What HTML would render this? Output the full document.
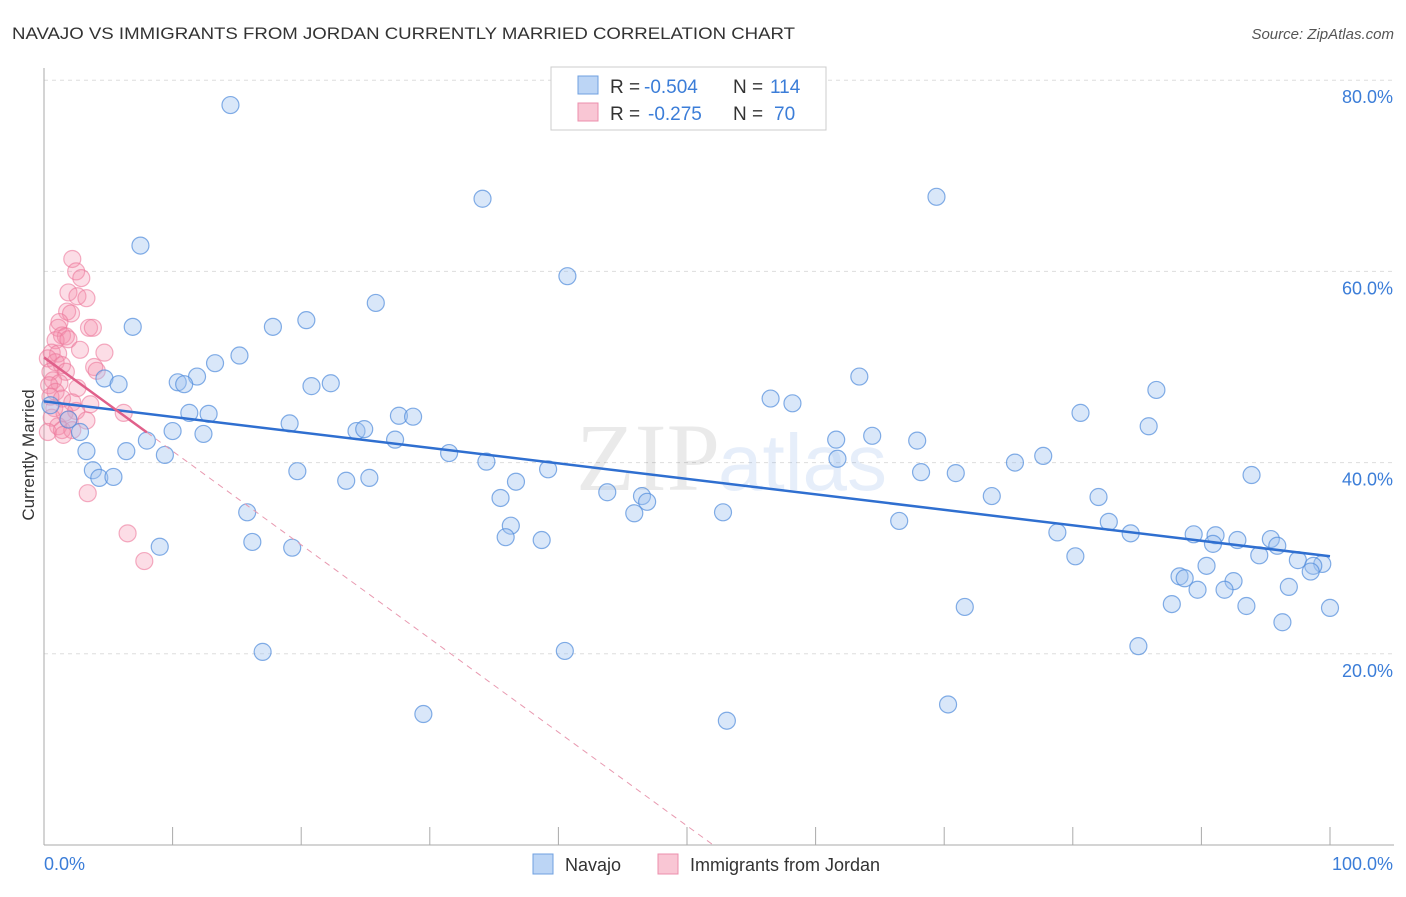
<!DOCTYPE html>
<html><head><meta charset="utf-8"><style>
body{margin:0;background:#fff;font-family:"Liberation Sans",sans-serif}
</style></head><body>
<svg width="1406" height="892" xmlns="http://www.w3.org/2000/svg">
<text x="12" y="39" font-size="17" fill="#333" textLength="783" lengthAdjust="spacingAndGlyphs">NAVAJO VS IMMIGRANTS FROM JORDAN CURRENTLY MARRIED CORRELATION CHART</text>
<text x="1394" y="39" font-size="15" fill="#555" font-style="italic" text-anchor="end">Source: ZipAtlas.com</text>
<g id="grid"></g>
<g id="axes"></g>
<text x="720" y="490" font-size="96" fill="#000" opacity="0.08" text-anchor="end" font-family="Liberation Serif">ZIP</text>
<text x="718" y="490" font-size="80" fill="#3b7dd8" opacity="0.12">atlas</text>
<g id="pts"></g>
<g id="lines"></g>
<text transform="translate(34,455) rotate(-90)" font-size="17" fill="#333" text-anchor="middle">Currently Married</text>
<g>
<rect x="551" y="67" width="275" height="63" fill="#fff" stroke="#ccc"/>
<rect x="578" y="76" width="20" height="18" fill="#bcd5f5" stroke="#6fa0e0"/>
<rect x="578" y="103" width="20" height="18" fill="#f9c6d4" stroke="#ec8fac"/>
<text y="93" font-size="19" fill="#333"><tspan x="610">R =</tspan><tspan x="644" fill="#3b7dd8">-0.504</tspan><tspan x="733">N =</tspan><tspan x="770" fill="#3b7dd8">114</tspan></text>
<text y="120" font-size="19" fill="#333"><tspan x="610">R =</tspan><tspan x="648" fill="#3b7dd8">-0.275</tspan><tspan x="733">N =</tspan><tspan x="774" fill="#3b7dd8">70</tspan></text>
</g>
<g>
<rect x="533" y="854" width="20" height="20" fill="#bcd5f5" stroke="#6fa0e0"/>
<text x="565" y="871" font-size="18" fill="#333">Navajo</text>
<rect x="658" y="854" width="20" height="20" fill="#f9c6d4" stroke="#ec8fac"/>
<text x="690" y="871" font-size="18" fill="#333">Immigrants from Jordan</text>
</g>
</svg>
<script>
const blueX=[14.5,7.5,34.1,69.4,40.7,25.8,20.4,17.8,6.9,15.2,13.3,11.9,10.4,10.9,4.7,5.8,20.8,22.3,63.4,86.5,56.5,58.2,11.3,12.8,27.6,28.7,80.6,19.1,85.9,10.0,12.4,24.3,24.9,27.3,8.0,61.6,64.4,67.9,2.8,1.9,3.3,6.4,9.4,31.5,34.4,61.7,75.5,77.7,3.8,4.3,5.4,19.7,39.2,68.2,70.9,93.9,23.5,25.3,36.7,35.5,43.8,46.5,46.9,73.7,82.0,15.8,45.9,52.8,66.5,82.8,36.3,35.9,38.7,78.8,84.5,89.4,91.1,92.8,95.4,90.9,16.2,9.0,19.3,95.9,94.5,80.2,97.5,99.4,98.7,90.4,98.5,88.3,88.7,92.5,96.8,89.7,91.8,87.7,71.6,93.5,100,96.3,85.1,17.0,40.5,70.3,29.5,53.1,0.5];
const blueY=[77.4,62.7,67.6,67.8,59.5,56.7,54.9,54.2,54.2,51.2,50.4,49.0,48.4,48.2,48.8,48.2,48.0,48.3,49.0,47.6,46.7,46.2,45.2,45.1,44.9,44.8,45.2,44.1,43.8,43.3,43.0,43.3,43.5,42.4,42.3,42.4,42.8,42.3,43.2,44.5,41.2,41.2,40.8,41.0,40.1,40.4,40.0,40.7,39.2,38.4,38.5,39.1,39.3,39.0,38.9,38.7,38.1,38.4,38.0,36.3,36.9,36.5,35.9,36.5,36.4,34.8,34.7,34.8,33.9,33.8,33.4,32.2,31.9,32.7,32.6,32.5,32.4,31.9,32.0,31.5,31.7,31.2,31.1,31.3,30.3,30.2,29.8,29.4,29.2,29.2,28.6,28.1,27.9,27.6,27.0,26.7,26.7,25.2,24.9,25.0,24.8,23.3,20.8,20.2,20.3,14.7,13.7,13.0,46.0];
const pinkX=[2.2,2.5,2.9,1.9,2.6,3.3,1.8,2.1,1.2,3.5,3.8,1.1,1.4,1.7,0.9,1.9,2.8,4.7,0.6,1.1,0.3,0.9,1.4,3.9,4.1,0.5,1.7,0.7,1.2,0.4,2.6,0.9,0.5,1.4,2.2,3.6,0.8,1.6,2.5,6.2,0.6,1.9,3.3,1.1,0.3,1.4,2.2,1.5,3.4,6.5,7.8];
const pinkY=[61.3,60.0,59.3,57.8,57.4,57.2,55.8,55.6,54.7,54.1,54.1,54.1,53.3,53.2,52.8,52.9,51.8,51.5,51.5,51.4,50.9,50.5,50.2,50.0,49.6,49.5,49.5,48.6,48.3,48.1,47.8,47.4,46.9,46.7,46.3,46.1,45.7,45.2,45.4,45.2,44.7,44.5,44.4,43.8,43.2,43.4,43.4,42.9,36.8,32.6,29.7];
const yTicks=[20,40,60,80];
const yTickLabels=["20.0%","40.0%","60.0%","80.0%"];
const xTicks=[0,10,20,30,40,50,60,70,80,90,100];
const blueFit=[46.4,30.2];
const pinkFit=[51.0,-0.98];
const NS="http://www.w3.org/2000/svg";
const sx=v=>44+v*12.86, sy=v=>845-v*9.56;
function mk(t,a,p){const e=document.createElementNS(NS,t);for(const k in a)e.setAttribute(k,a[k]);p.appendChild(e);return e;}
const grid=document.getElementById('grid'),axes=document.getElementById('axes'),pts=document.getElementById('pts'),lines=document.getElementById('lines');
yTicks.forEach((v,i)=>{
 const l=mk('line',{x1:44,x2:1394,y1:sy(v),y2:sy(v),stroke:'#ddd','stroke-dasharray':'4,4'},grid);
 
 
 const t=mk('text',{x:1393,y:sy(v)+23,'font-size':18,fill:'#3b7dd8','text-anchor':'end'},axes);
 t.textContent=yTickLabels[i];
 
 
});
mk('line',{x1:44,x2:44,y1:68,y2:845,stroke:'#aaa'},axes);
mk('line',{x1:44,x2:1394,y1:845,y2:845,stroke:'#aaa'},axes);
xTicks.forEach(v=>{const l=mk('line',{x1:sx(v),x2:sx(v),y1:827,y2:845,stroke:'#aaa'},axes);
 
 });
let t0=mk('text',{x:44,y:870,'font-size':18,fill:'#3b7dd8'},axes);t0.textContent='0.0%';


let t1=mk('text',{x:1393,y:870,'font-size':18,fill:'#3b7dd8','text-anchor':'end'},axes);t1.textContent='100.0%';


pinkX.forEach((x,i)=>{const c=mk('circle',{cx:sx(x),cy:sy(pinkY[i]),r:8.5,fill:'rgba(244,143,172,0.3)',stroke:'rgba(236,120,155,0.6)','stroke-width':1.2},pts);
 
 });
blueX.forEach((x,i)=>{const c=mk('circle',{cx:sx(x),cy:sy(blueY[i]),r:8.5,fill:'rgba(160,196,240,0.4)',stroke:'rgba(80,140,220,0.7)','stroke-width':1.2},pts);
 
 });
let bl=mk('line',{x1:sx(0),y1:sy(blueFit[0]),x2:sx(100),y2:sy(blueFit[1]),stroke:'#2f6fd0','stroke-width':2.5},lines);


const pz=-pinkFit[0]/pinkFit[1];
let pd=mk('line',{x1:sx(8),y1:sy(pinkFit[0]+pinkFit[1]*8),x2:sx(pz),y2:sy(0),stroke:'#e899b0','stroke-width':1,'stroke-dasharray':'6,5'},lines);


let pl=mk('line',{x1:sx(0),y1:sy(pinkFit[0]),x2:sx(8),y2:sy(pinkFit[0]+pinkFit[1]*8),stroke:'#e0608a','stroke-width':2.5},lines);


</script>
</body></html>
